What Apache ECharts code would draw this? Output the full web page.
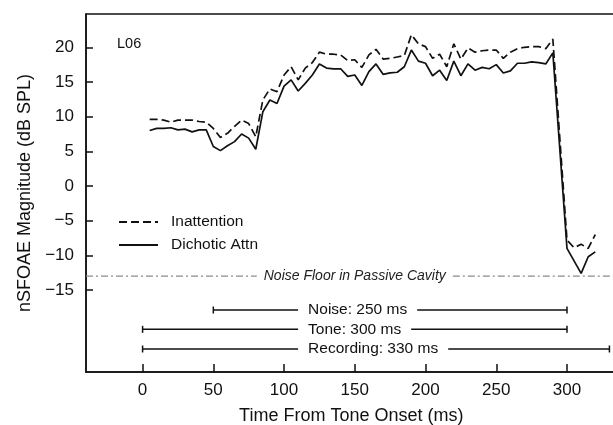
<!DOCTYPE html>
<html><head><meta charset="utf-8">
<script src="https://cdn.jsdelivr.net/npm/echarts@6/dist/echarts.min.js"></script>
<style>html,body{margin:0;padding:0;background:#fff}#c{width:613px;height:425px}</style>
</head><body><div id="c"></div>
<script>
// ---- data ----
const timesMs = [5,10,15,20,25,30,35,40,45,50,55,60,65,70,75,80,85,90,95,100,
  105,110,115,120,125,130,135,140,145,150,155,160,165,170,175,180,185,190,195,200,
  205,210,215,220,225,230,235,240,245,250,255,260,265,270,275,280,285,290,
  300,305,310,315,320];
const inattention = [9.6,9.6,9.5,9.2,9.5,9.5,9.5,9.3,9.2,8.3,7.0,7.6,8.6,9.5,9.0,7.1,12.4,14.0,13.6,16.0,
  17.2,15.3,17.0,17.8,19.3,19.0,19.0,18.9,18.1,18.2,17.1,18.9,19.7,18.3,18.4,18.6,18.8,21.8,20.5,20.1,
  18.4,19.0,17.2,20.5,18.3,19.9,19.3,19.5,19.6,19.6,18.4,19.3,19.8,20.0,20.1,20.1,19.8,21.2,
  -7.8,-8.9,-8.4,-9.0,-7.0];
const dichoticAttn = [8.0,8.3,8.3,8.4,8.1,8.2,7.8,8.1,8.1,5.7,5.1,5.8,6.4,7.5,6.9,5.3,10.7,12.4,11.9,14.4,
  15.3,13.7,14.8,16.0,17.6,17.0,16.9,16.9,15.8,16.0,14.5,16.5,17.6,16.1,16.3,16.4,17.2,19.6,18.0,17.7,
  15.9,16.7,15.2,18.0,15.9,17.6,16.7,17.1,16.9,17.5,16.3,16.6,17.7,17.7,17.9,17.8,17.6,19.2,
  -9.0,null,-12.6,-10.2,-9.5];
const seriesNames = ['Inattention','Dichotic Attn'];
const xTicks = [0,50,100,150,200,250,300];
const yTicks = [-15,-10,-5,0,5,10,15,20];
const noiseFloorDb = -13;
const noiseFloorLabel = 'Noise Floor in Passive Cavity';
const spanLabels = ['Noise: 250 ms','Tone: 300 ms','Recording: 330 ms'];
const spanStarts = [50,0,0];
const spanEnds = [300,300,330];
const panelLabel = 'L06';

// ---- layout ----
const FONT = '"Liberation Sans", Arial, Helvetica, sans-serif';
const INK = '#111';
const spanLevels = [-17.88,-20.67,-23.5];
const spanTextAnchorMs = 117;
const noiseLabelCenterMs = 150;

const mctx = document.createElement('canvas').getContext('2d');
function textW(t, font){ mctx.font = font; return mctx.measureText(t).width; }

const pairs = arr => timesMs.map((t,i)=>[t, arr[i]]).filter(p => p[1] !== null);

const spanFont = '15.5px ' + FONT;
const nfFont = 'italic 14px ' + FONT;

const chart = echarts.init(document.getElementById('c'), null, {renderer:'canvas'});
chart.setOption({
  animation:false,
  backgroundColor:'#fff',
  grid:{left:86, top:14, width:530.5, height:358, show:true, borderColor:INK, borderWidth:1.5,
    backgroundColor:'transparent', containLabel:false, outerBoundsMode:'none'},
  legend:{
    data:seriesNames, orient:'vertical', left:113, top:209,
    itemWidth:39, itemHeight:14, itemGap:7,
    itemStyle:{opacity:0},
    textStyle:{fontFamily:FONT, fontSize:15.5, color:INK, padding:[0,0,0,8]},
    inactiveColor:INK
  },
  xAxis:{
    type:'value', min:-40, max:335,
    name:'Time From Tone Onset (ms)', nameLocation:'middle', nameGap:35,
    nameTextStyle:{fontFamily:FONT, fontSize:18, color:INK},
    axisLine:{show:true, onZero:false, lineStyle:{color:INK, width:1.5}},
    axisTick:{show:true, inside:true, length:8, customValues:xTicks, lineStyle:{color:INK, width:1.5}},
    axisLabel:{customValues:xTicks, fontFamily:FONT, fontSize:17, color:INK, margin:10},
    splitLine:{show:false}
  },
  yAxis:{
    type:'value', min:-26.82, max:24.8,
    name:'nSFOAE Magnitude (dB SPL)', nameLocation:'middle', nameGap:47, nameRotate:90,
    nameTextStyle:{fontFamily:FONT, fontSize:18, color:INK},
    axisLine:{show:true, onZero:false, lineStyle:{color:INK, width:1.5}},
    axisTick:{show:true, inside:true, length:7, customValues:yTicks, lineStyle:{color:INK, width:1.5}},
    axisLabel:{customValues:yTicks, fontFamily:FONT, fontSize:17, color:INK, margin:12,
      formatter:v => String(v).replace('-', '\u2212')},
    splitLine:{show:false}
  },
  graphic:[
    {type:'text', left:117, top:36, style:{text:panelLabel, font:'14.5px ' + FONT, fill:INK}}
  ],
  series:[
    {
      name:seriesNames[0], type:'line', data:pairs(inattention), symbol:'none', showSymbol:false,
      connectNulls:true, z:5,
      lineStyle:{color:INK, width:1.7, type:[8,4]}, itemStyle:{color:INK}
    },
    {
      name:seriesNames[1], type:'line', data:pairs(dichoticAttn), symbol:'none', showSymbol:false,
      connectNulls:true, z:5,
      lineStyle:{color:INK, width:1.7, type:'solid'}, itemStyle:{color:INK}
    },
    {
      type:'custom', coordinateSystem:'cartesian2d', silent:true, clip:false, z:2,
      data:[[noiseLabelCenterMs, noiseFloorDb]],
      encode:{x:0, y:1},
      renderItem:function(params, api){
        const cs = params.coordSys;
        const c = api.coord([api.value(0), api.value(1)]);
        const w = textW(noiseFloorLabel, nfFont);
        const pad = 7;
        const st = {stroke:'#8a8a8a', lineWidth:1.3, lineDash:[7,3,2,3]};
        return {type:'group', children:[
          {type:'line', shape:{x1:cs.x, y1:c[1], x2:c[0]-w/2-pad, y2:c[1]}, style:st},
          {type:'line', shape:{x1:c[0]+w/2+pad, y1:c[1], x2:cs.x+cs.width, y2:c[1]}, style:st},
          {type:'text', style:{x:c[0], y:c[1], text:noiseFloorLabel, font:nfFont, fill:'#222', align:'center', verticalAlign:'middle'}}
        ]};
      }
    },
    {
      type:'custom', coordinateSystem:'cartesian2d', silent:true, clip:false, z:2,
      data:spanLabels.map((l,i)=>[spanStarts[i], spanEnds[i], spanLevels[i]]),
      encode:{x:[0,1], y:2},
      renderItem:function(params, api){
        const y = api.value(2);
        const s = api.coord([api.value(0), y]);
        const e = api.coord([api.value(1), y]);
        const t = api.coord([spanTextAnchorMs, y]);
        const label = spanLabels[params.dataIndex];
        const w = textW(label, spanFont);
        const gap = 10, cap = 3.5;
        const st = {stroke:INK, lineWidth:1.5};
        return {type:'group', children:[
          {type:'line', shape:{x1:s[0], y1:s[1], x2:t[0]-gap, y2:s[1]}, style:st},
          {type:'line', shape:{x1:t[0]+w+gap, y1:s[1], x2:e[0], y2:s[1]}, style:st},
          {type:'line', shape:{x1:s[0], y1:s[1]-cap, x2:s[0], y2:s[1]+cap}, style:st},
          {type:'line', shape:{x1:e[0], y1:e[1]-cap, x2:e[0], y2:e[1]+cap}, style:st},
          {type:'text', style:{x:t[0], y:s[1], text:label, font:spanFont, fill:INK, align:'left', verticalAlign:'middle'}}
        ]};
      }
    }
  ]
});
</script>
</body></html>
